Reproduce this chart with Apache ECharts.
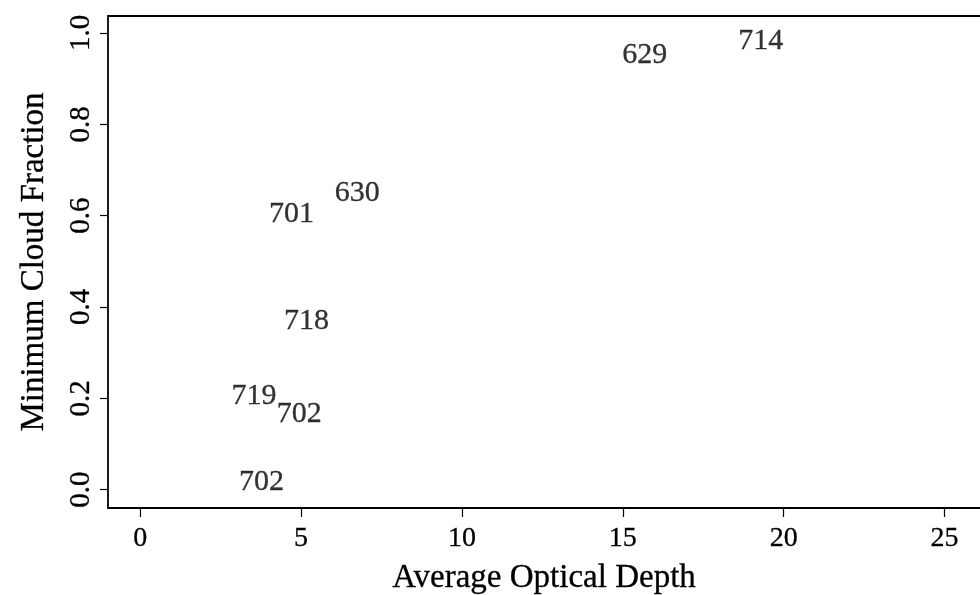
<!DOCTYPE html>
<html>
<head>
<meta charset="utf-8">
<title>Minimum Cloud Fraction vs Average Optical Depth</title>
<script src="https://cdn.jsdelivr.net/npm/echarts@6/dist/echarts.min.js"></script>
<style>
  html, body { margin: 0; padding: 0; background: #fff; }
  #chart { width: 980px; height: 595px; }
</style>
</head>
<body>
<div id="chart"></div>
<script>
// Case labels, plotted as text at (optical depth, cloud fraction)
const caseLabels = ['629', '714', '630', '701', '718', '719', '702', '702'];
const opticalDepth = [15.68, 19.29, 6.75, 4.70, 5.17, 3.54, 4.94, 3.77];
const cloudFraction = [0.956, 0.987, 0.654, 0.607, 0.374, 0.210, 0.170, 0.022];

const xTicks = [0, 5, 10, 15, 20, 25];
const yTicks = [0.0, 0.2, 0.4, 0.6, 0.8, 1.0];

const FONT = '"Liberation Serif", "DejaVu Serif", serif';
const INK = '#000';

const points = caseLabels.map((name, i) => ({
  name: name,
  value: [opticalDepth[i], cloudFraction[i]]
}));

const chart = echarts.init(document.getElementById('chart'), null, { renderer: 'canvas' });

const inkText = (size) => ({
  fontFamily: FONT, fontSize: size, color: INK,
  textBorderColor: INK, textBorderWidth: 0.3
});

chart.setOption({
  animation: false,
  backgroundColor: '#ffffff',
  grid: {
    left: 108, right: 0, top: 16, bottom: 87,
    containLabel: false,
    outerBoundsMode: 'none'
  },
  xAxis: [
    {
      type: 'value',
      min: -1,
      max: 26.1,
      position: 'bottom',
      name: 'Average Optical Depth',
      nameLocation: 'middle',
      nameGap: 54,
      nameTextStyle: inkText(33),
      axisLine: { show: true, onZero: false, lineStyle: { color: INK, width: 1.8 } },
      axisTick: {
        show: true, inside: false, length: 9,
        customValues: xTicks,
        lineStyle: { color: INK, width: 1.2 }
      },
      axisLabel: Object.assign({
        show: true, margin: 17,
        customValues: xTicks,
        formatter: v => String(v)
      }, inkText(28)),
      splitLine: { show: false }
    },
    {
      type: 'value',
      min: -1,
      max: 26.1,
      position: 'top',
      axisLine: { show: true, onZero: false, lineStyle: { color: INK, width: 1.8 } },
      axisTick: { show: false },
      axisLabel: { show: false },
      splitLine: { show: false }
    }
  ],
  yAxis: {
    type: 'value',
    min: -0.04,
    max: 1.037,
    name: 'Minimum Cloud Fraction',
    nameLocation: 'middle',
    nameGap: 57,
    nameTextStyle: inkText(33),
    axisLine: { show: true, onZero: false, lineStyle: { color: INK, width: 1.8 } },
    axisTick: {
      show: true, inside: false, length: 8,
      customValues: yTicks,
      lineStyle: { color: INK, width: 1.2 }
    },
    axisLabel: Object.assign({
      show: true, margin: 12, rotate: 90,
      customValues: yTicks,
      formatter: v => v.toFixed(1)
    }, inkText(29)),
    splitLine: { show: false }
  },
  series: [{
    type: 'scatter',
    xAxisIndex: 0,
    symbolSize: 0,
    data: points,
    label: Object.assign({
      show: true,
      position: 'inside',
      offset: [0, 2],
      formatter: p => p.name
    }, inkText(30)),
    emphasis: { disabled: true }
  }]
});
</script>
</body>
</html>
